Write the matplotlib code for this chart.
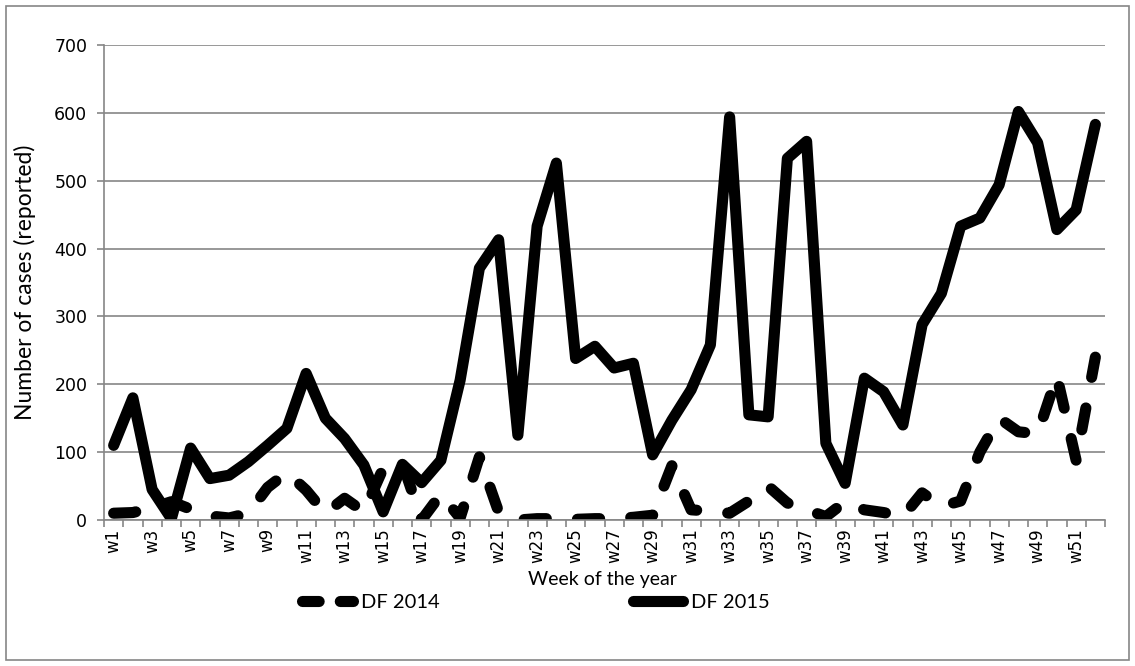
import numpy as np
import matplotlib
matplotlib.use("Agg")
import matplotlib.pyplot as plt
from matplotlib.lines import Line2D
from matplotlib.patches import Rectangle

# --- weekly reported cases ---
weeks = [f"w{i}" for i in range(1, 53)]

df2014 = [10, 11, 18, 27, 16, 6, 3, 10, 48, 70,
          44, 10, 32, 12, 76, 84, 0, 38, 3, 93,
          12, 0, 2, 2, 1, 2, 2, 4, 7, 80,
          15, 13, 10, 28, 50, 25, 15, 5, 27, 15,
          11, 5, 40, 20, 28, 100, 150, 130, 127, 212,
          88, 240]

df2015 = [110, 180, 45, 2, 106, 61, 66, 86, 110, 135,
          216, 150, 120, 81, 12, 82, 55, 88, 206, 371,
          413, 125, 433, 526, 238, 256, 224, 231, 96, 147,
          192, 258, 594, 155, 152, 533, 558, 113, 54, 209,
          189, 140, 288, 334, 433, 445, 494, 602, 556, 428,
          457, 583]

series_names = ["DF 2014", "DF 2015"]

GRAY = "#868686"
TITLE_FONT = "Lato"
LW = 8

W, H = 1135, 666
fig = plt.figure(figsize=(W / 100, H / 100), dpi=100)
ax = fig.add_axes([104 / W, 1 - 520 / H, (1105 - 104) / W, (520 - 45) / H])

x = np.arange(len(weeks))
ax.plot(x, df2014, color="black", lw=LW, linestyle=(0, (2, 2.8)),
        dash_capstyle="round", dash_joinstyle="round")
ax.plot(x, df2015, color="black", lw=LW,
        solid_capstyle="round", solid_joinstyle="round")

ax.set_xlim(-0.5, len(weeks) - 0.5)
ax.set_ylim(0, 700)
ax.set_yticks(range(0, 701, 100))
ax.yaxis.grid(True, color=GRAY, lw=1.2)
ax.set_axisbelow(True)

for side in ["top", "right"]:
    ax.spines[side].set_visible(False)
for side in ["left", "bottom"]:
    ax.spines[side].set_color(GRAY)
    ax.spines[side].set_linewidth(1.2)

ax.set_xticks(x[::2])
ax.set_xticklabels(weeks[::2], rotation=90, fontsize=12, family="DejaVu Sans")
ax.set_xticks(np.arange(-0.5, len(weeks), 1), minor=True)
ax.tick_params(axis="x", which="major", length=0, pad=6)
ax.tick_params(axis="x", which="minor", length=5, color=GRAY, width=1.2)
ax.tick_params(axis="y", length=5, color=GRAY, width=1.2, pad=7, labelsize=12.5)

ax.set_ylabel("Number of cases (reported)", family=TITLE_FONT, fontsize=16.5)
ax.yaxis.set_label_coords(-68 / (1105 - 104), 0.5)
fig.text(602 / W, 1 - 580 / H, "Week of the year", family=TITLE_FONT, fontsize=14,
         ha="center", va="center")

handles = [
    Line2D([], [], color="black", lw=LW, linestyle=(0, (1.5, 1.9)), dash_capstyle="round"),
    Line2D([], [], color="black", lw=LW, solid_capstyle="round"),
]
fig.legend(handles, series_names, loc="center", bbox_to_anchor=(536 / W, 1 - 602 / H),
           ncol=2, frameon=False, handlelength=2.5, handletextpad=0.4,
           columnspacing=9.6, prop={"family": TITLE_FONT, "size": 14.5})

fig.patches.append(Rectangle((6 / W, 6 / H), (1129 - 6) / W, (660 - 6) / H,
                             transform=fig.transFigure, fill=False,
                             edgecolor=GRAY, lw=1.2))

fig.savefig("out.png", dpi=100)
